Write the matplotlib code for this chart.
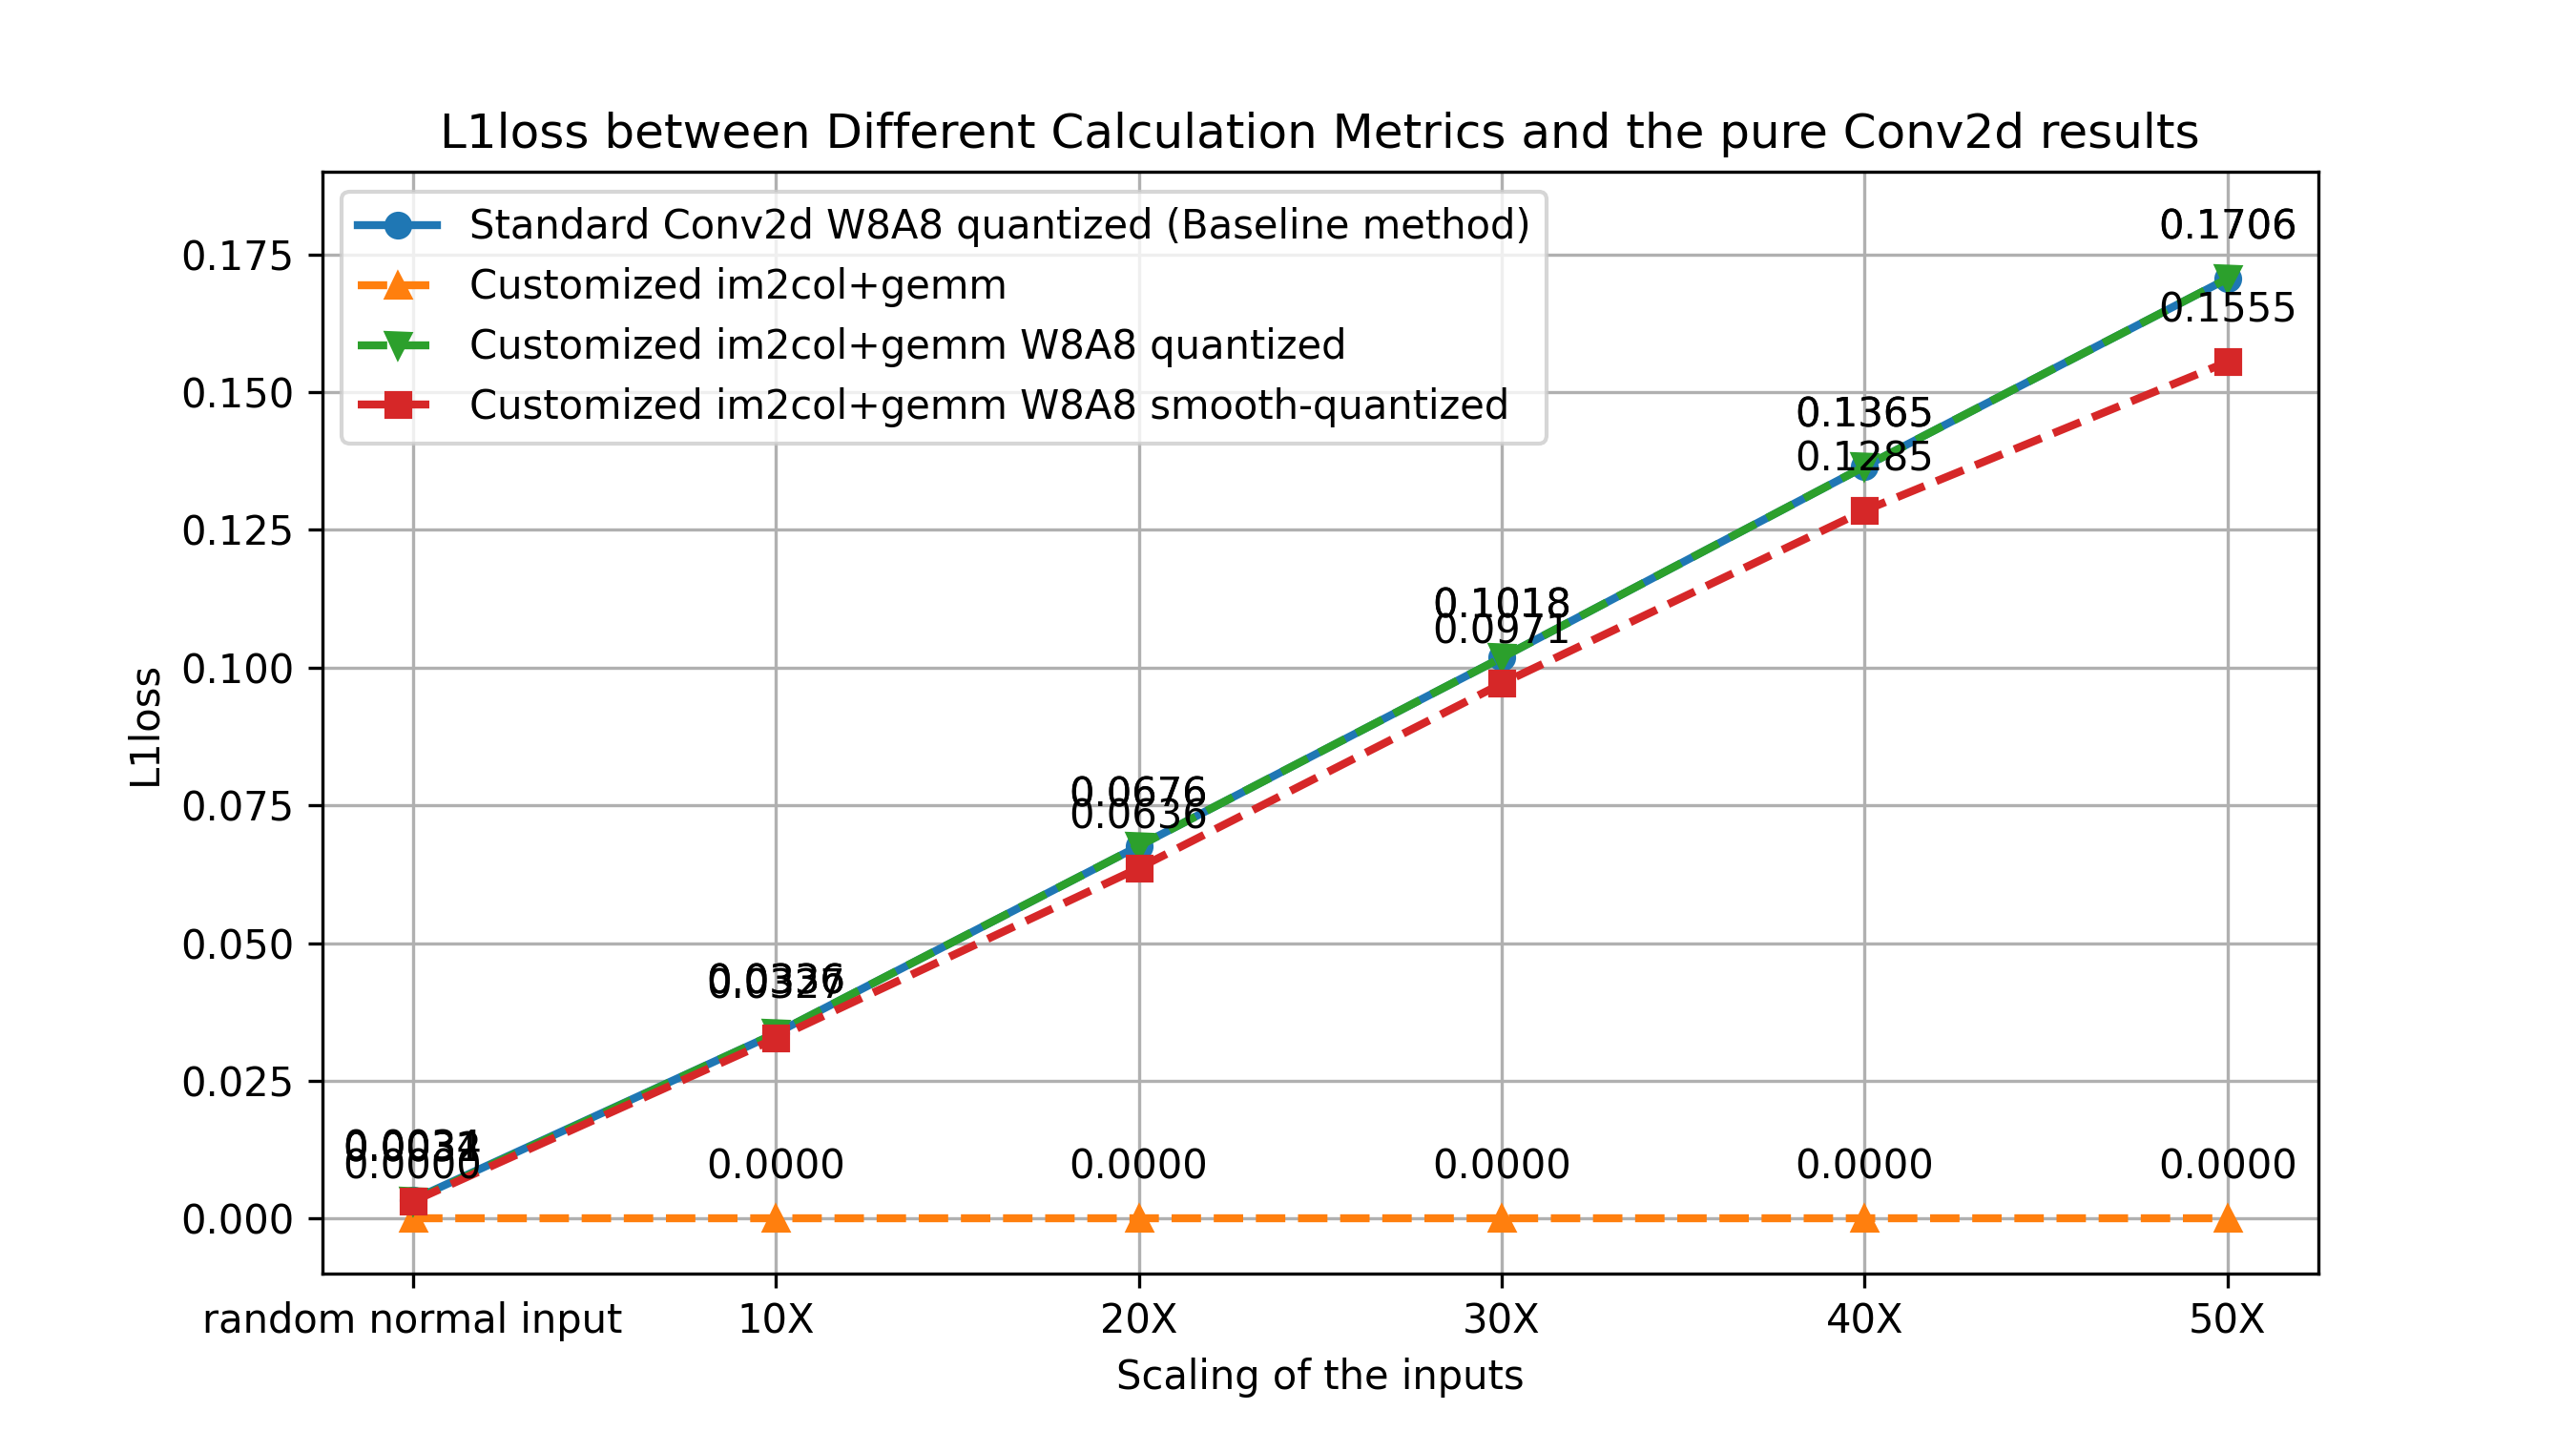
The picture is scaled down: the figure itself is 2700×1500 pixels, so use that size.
import numpy as np
import matplotlib
matplotlib.use("Agg")
import matplotlib.pyplot as plt

labels = ["random normal input", "10X", "20X", "30X", "40X", "50X"]
baseline = [0.0034, 0.0336, 0.0676, 0.1018, 0.1365, 0.1706]
im2col = [0.0000, 0.0000, 0.0000, 0.0000, 0.0000, 0.0000]
im2col_q = [0.0032, 0.0336, 0.0676, 0.1018, 0.1365, 0.1706]
im2col_sq = [0.0031, 0.0327, 0.0636, 0.0971, 0.1285, 0.1555]

series = [
    (baseline, "Standard Conv2d W8A8 quantized (Baseline method)", "o", "-"),
    (im2col, "Customized im2col+gemm", "^", "--"),
    (im2col_q, "Customized im2col+gemm W8A8 quantized", "v", "--"),
    (im2col_sq, "Customized im2col+gemm W8A8 smooth-quantized", "s", "--"),
]

fig = plt.figure(figsize=(9, 5), dpi=300)
x = np.arange(len(labels))
for vals, name, mk, ls in series:
    plt.plot(x, vals, marker=mk, linestyle=ls, linewidth=2, label=name)
    for xi, v in zip(x, vals):
        plt.annotate(f"{v:.4f}", (xi, v), textcoords="offset points",
                     xytext=(0, 10), ha="center")

plt.xticks(x, labels)
plt.ylim(-0.01, 0.19)
plt.xlabel("Scaling of the inputs")
plt.ylabel("L1loss")
plt.title("L1loss between Different Calculation Metrics and the pure Conv2d results")
plt.legend(loc="upper left")
plt.grid(True)
plt.savefig("out.png")
